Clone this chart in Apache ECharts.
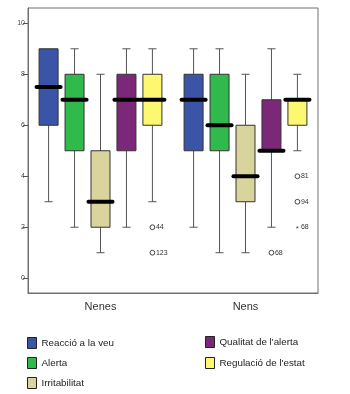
<!DOCTYPE html>
<html>
<head>
<meta charset="utf-8">
<script src="https://cdn.jsdelivr.net/npm/echarts@6/dist/echarts.min.js"></script>
<style>
html,body{margin:0;padding:0;background:#fff;}
#c{width:350px;height:394px;}
</style>
</head>
<body>
<div id="c"></div>
<script>
// ---- data ----
var categories = ['Nenes', 'Nens'];
var seriesNames = ['Reacció a la veu', 'Alerta', 'Irritabilitat', "Qualitat de l'alerta", "Regulació de l'estat"];
var seriesColors = ['#3a55a8', '#2fba4b', '#d8d49c', '#7b2878', '#fdf870'];
// [min, Q1, median, Q3, max] per category
var reaccio       = [[3, 6, 7.5, 9, 9], [2, 5, 7, 8, 9]];
var alerta        = [[2, 5, 7, 8, 9],   [1, 5, 6, 8, 9]];
var irritabilitat = [[1, 2, 3, 5, 8],   [1, 3, 4, 6, 8]];
var qualitat      = [[2, 5, 7, 8, 9],   [2, 5, 5, 7, 9]];
var regulacio     = [[3, 6, 7, 8, 9],   [5, 6, 7, 7, 8]];
var boxValues = [reaccio, alerta, irritabilitat, qualitat, regulacio];
// outliers
var outlierCat   = [0, 0, 1, 1, 1, 1];
var outlierSlot  = [4, 4, 4, 4, 4, 3];
var outlierValue = [2, 1, 4, 3, 2, 1];
var outlierLabel = ['44', '123', '81', '94', '68', '68'];
var outlierKind  = ['o', 'o', 'o', 'o', '*', 'o'];
var yTicks = [0, 2, 4, 6, 8, 10];

var FONT = 'Liberation Sans, Arial, sans-serif';

function slotCenter(api, cat, slot) {
  var bw = api.size([1, 0])[0];
  return { cx: api.coord([cat, 0])[0] + (slot - 2) * 0.179 * bw, bw: bw };
}

function renderBox(params, api) {
  var cat = api.value(0);
  var sc = slotCenter(api, cat, params.seriesIndex);
  var cx = sc.cx, bw = sc.bw;
  function y(v) { return api.coord([cat, v])[1]; }
  var mn = api.value(1), q1 = api.value(2), md = api.value(3), q3 = api.value(4), mx = api.value(5);
  var hw = 0.0655 * bw, cw = 0.028 * bw, mw = 0.083 * bw;
  var wStyle = { stroke: '#555', lineWidth: 1 };
  var children = [];
  if (mn < q1) {
    children.push({ type: 'line', shape: { x1: cx, y1: y(mn), x2: cx, y2: y(q1) }, style: wStyle });
    children.push({ type: 'line', shape: { x1: cx - cw, y1: y(mn), x2: cx + cw, y2: y(mn) }, style: wStyle });
  }
  if (mx > q3) {
    children.push({ type: 'line', shape: { x1: cx, y1: y(mx), x2: cx, y2: y(q3) }, style: wStyle });
    children.push({ type: 'line', shape: { x1: cx - cw, y1: y(mx), x2: cx + cw, y2: y(mx) }, style: wStyle });
  }
  children.push({ type: 'rect', shape: { x: cx - hw, y: y(q3), width: 2 * hw, height: y(q1) - y(q3) },
    style: { fill: api.visual('color'), stroke: '#333', lineWidth: 1 } });
  children.push({ type: 'line', shape: { x1: cx - mw, y1: y(md), x2: cx + mw, y2: y(md) },
    style: { stroke: '#000', lineWidth: 4, lineCap: 'round' } });
  return { type: 'group', children: children };
}

function renderOutlier(params, api) {
  var i = params.dataIndex;
  var cat = api.value(0);
  var sc = slotCenter(api, cat, outlierSlot[i]);
  var cx = sc.cx;
  var cy = api.coord([cat, api.value(1)])[1];
  var children = [];
  if (outlierKind[i] === 'o') {
    children.push({ type: 'circle', shape: { cx: cx, cy: cy, r: 2.4 }, style: { fill: '#fff', stroke: '#444', lineWidth: 1 } });
  } else {
    children.push({ type: 'text', style: { text: '*', x: cx, y: cy + 1.5, align: 'center', verticalAlign: 'middle', fontSize: 8, fill: '#444', fontFamily: FONT } });
  }
  children.push({ type: 'text', style: { text: outlierLabel[i], x: cx + 3.5, y: cy, verticalAlign: 'middle', fontSize: 7, fill: '#333', fontFamily: FONT } });
  return { type: 'group', children: children };
}

var series = seriesNames.map(function (name, s) {
  return {
    name: name,
    type: 'custom',
    renderItem: renderBox,
    itemStyle: { color: seriesColors[s] },
    encode: { x: 0, y: [1, 2, 3, 4, 5] },
    data: boxValues[s].map(function (b, c) { return [c].concat(b); })
  };
});
series.push({
  name: 'outliers',
  type: 'custom',
  renderItem: renderOutlier,
  encode: { x: 0, y: 1 },
  data: outlierValue.map(function (v, i) { return [outlierCat[i], v]; })
});

function legendItems(idx) {
  return idx.map(function (s) {
    return { name: seriesNames[s], icon: 'rect', itemStyle: { color: seriesColors[s], borderColor: '#222', borderWidth: 1 } };
  });
}

var chart = echarts.init(document.getElementById('c'), null, { renderer: 'canvas' });
chart.setOption({
  animation: false,
  backgroundColor: '#fff',
  grid: { left: 28, top: 8, right: 32, bottom: 101, show: true, borderColor: '#707070', borderWidth: 1 },
  legend: [
    { data: legendItems([0, 1, 2]), orient: 'vertical', left: 27, top: 337, padding: 0, itemWidth: 9, itemHeight: 11, itemGap: 8,
      textStyle: { fontSize: 9.8, color: '#222', fontFamily: FONT }, selectedMode: false },
    { data: legendItems([3, 4]), orient: 'vertical', left: 205, top: 336, padding: 0, itemWidth: 9, itemHeight: 11, itemGap: 9,
      textStyle: { fontSize: 9.8, color: '#222', fontFamily: FONT }, selectedMode: false }
  ],
  xAxis: {
    type: 'category',
    data: categories,
    boundaryGap: true,
    axisLine: { onZero: false, lineStyle: { color: '#707070' } },
    axisTick: { alignWithLabel: true, length: 4, lineStyle: { color: '#555' } },
    axisLabel: { fontSize: 11, color: '#333', margin: 8, fontFamily: FONT },
    splitLine: { show: false }
  },
  yAxis: {
    type: 'value',
    min: -0.58,
    max: 10.6,
    axisLine: { show: true, onZero: false, lineStyle: { color: '#707070' } },
    axisTick: { show: true, length: 5, customValues: yTicks, lineStyle: { color: '#555' } },
    axisLabel: { fontSize: 7, color: '#444', margin: 3, fontFamily: FONT, customValues: yTicks },
    splitLine: { show: false }
  },
  series: series
});
</script>
</body>
</html>
